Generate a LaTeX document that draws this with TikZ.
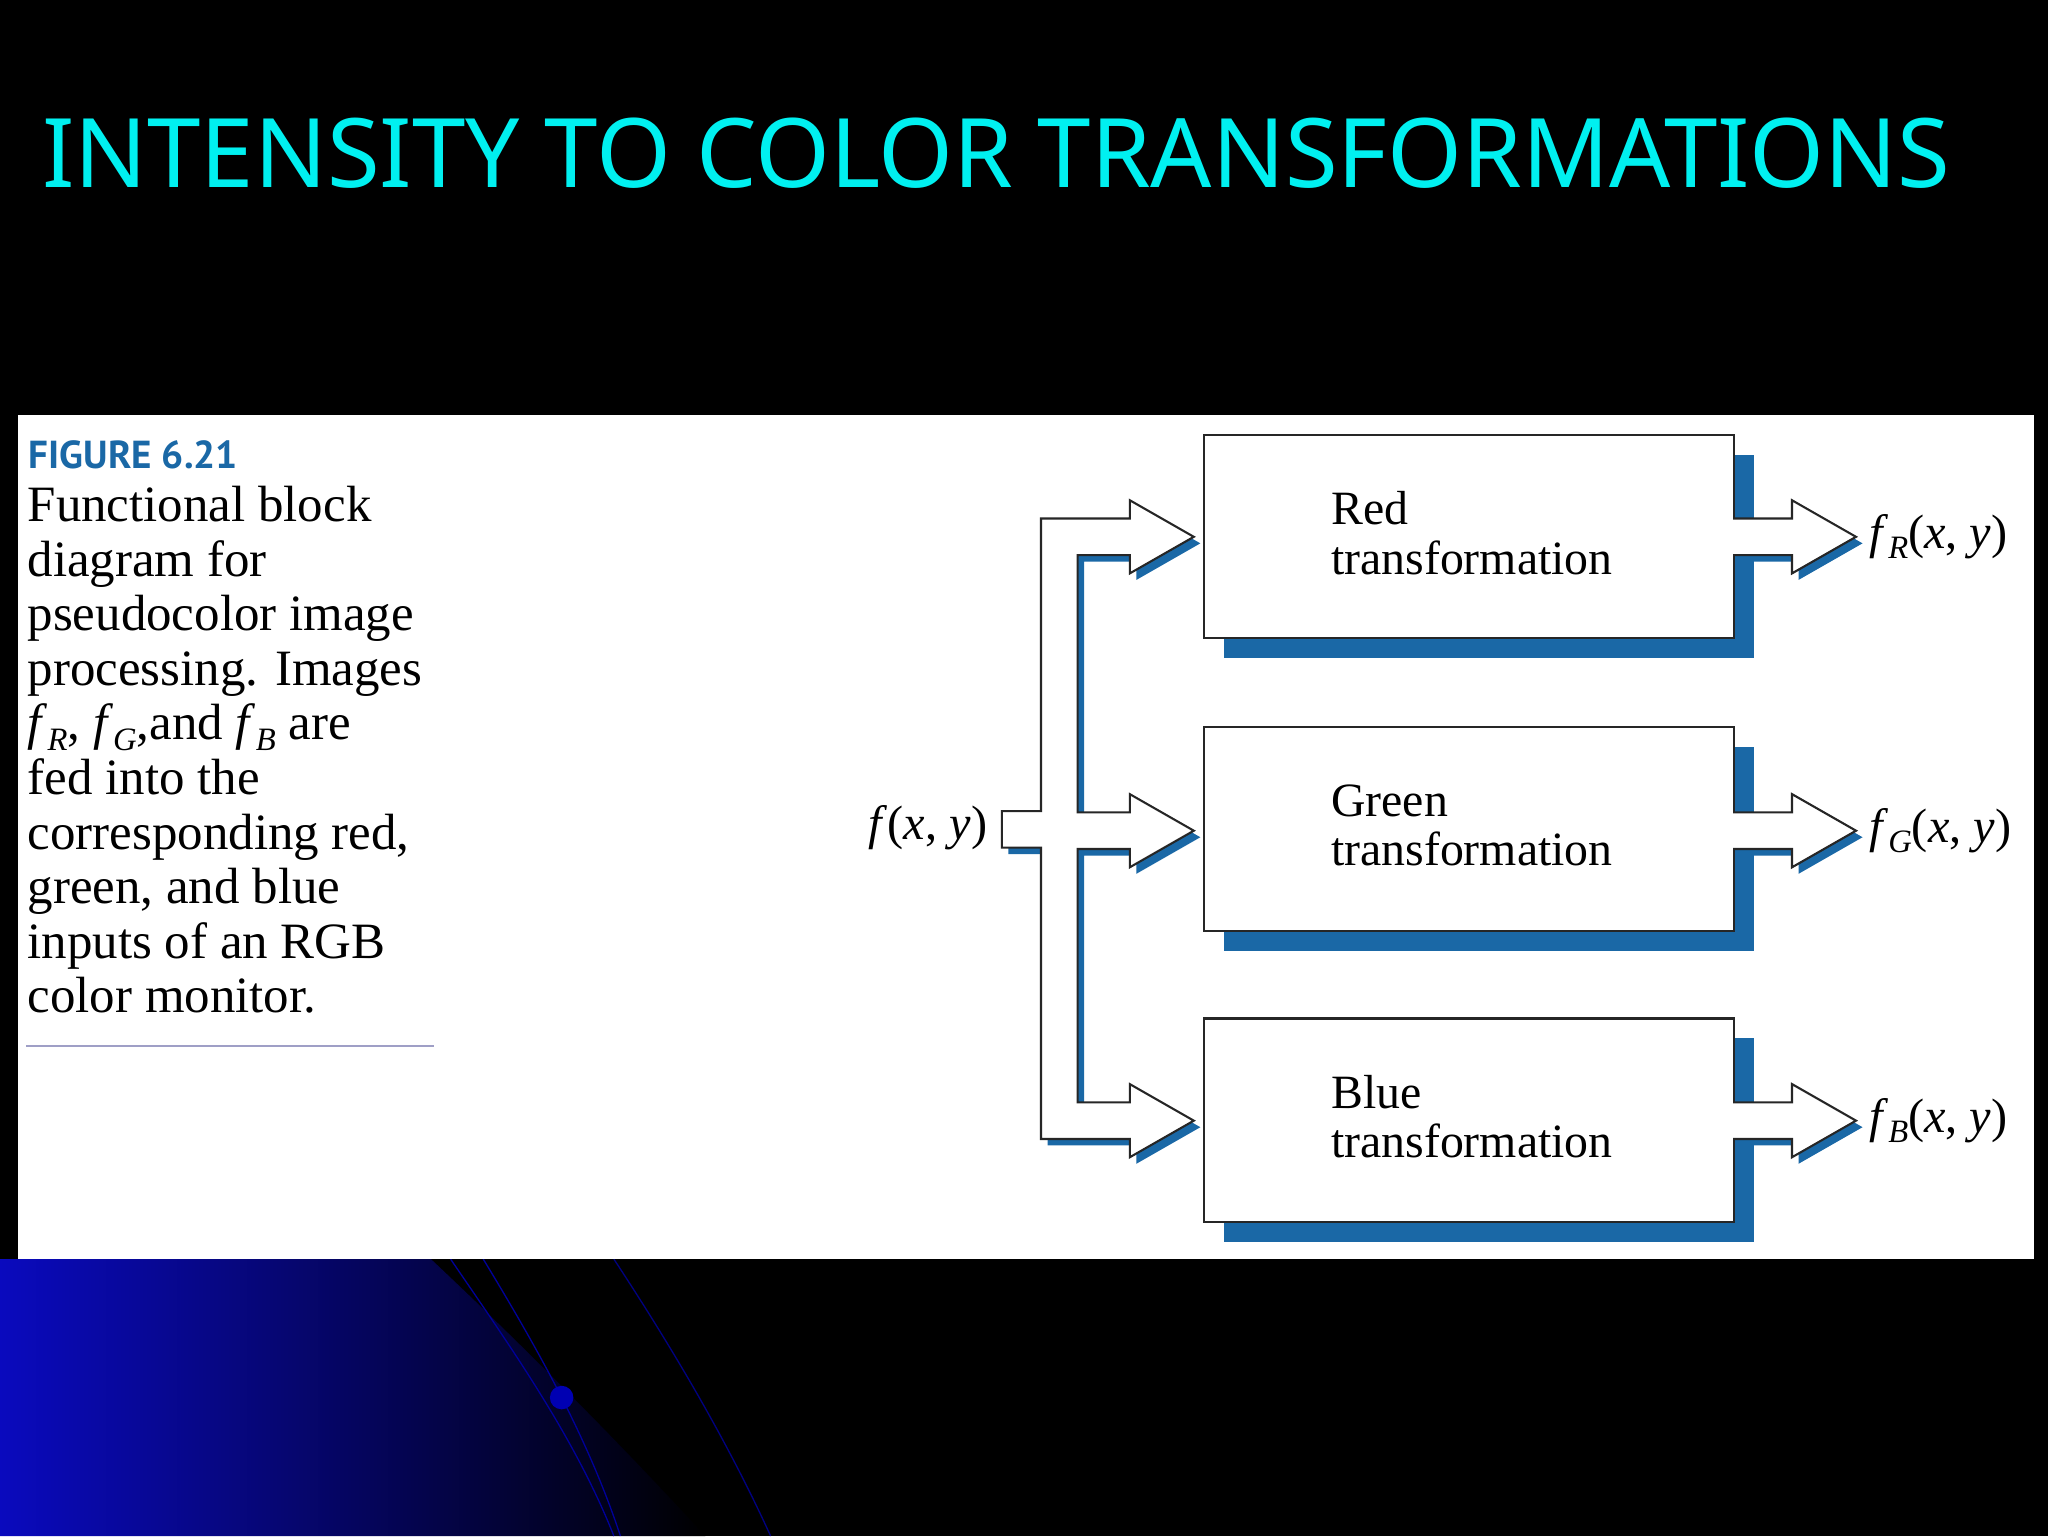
\documentclass[tikz,border=0pt]{standalone}
\usepackage{fontspec}
\setmainfont{Liberation Serif}
\newfontfamily\titlefont{Noto Sans}
\newfontfamily\figfont{PT Sans}
\usetikzlibrary{shadings}
\definecolor{shblue}{RGB}{26,104,166}
\definecolor{titlecyan}{RGB}{0,240,240}
\tikzset{
 tbox/.style={draw=black!85,line width=1.6pt,fill=white,minimum width=406pt,minimum height=156pt,anchor=north west},
 tlabel/.style={font=\fontsize{36.6}{38}\selectfont,align=left,anchor=west,inner sep=0pt},
 olabel/.style={font=\fontsize{37}{38}\selectfont,anchor=west,inner sep=0pt},
 aline/.style={draw=black!85,line width=1.6pt,fill=white,line join=miter},
}
\newcommand{\fsub}[1]{\textit{f}\raisebox{-0.2em}{\fontsize{25}{25}\selectfont\textit{#1}}}
\newcommand{\csub}[1]{\textit{f}\smash{\raisebox{-0.2em}{\fontsize{25}{25}\selectfont\textit{#1}}}}
\begin{document}
\begin{tikzpicture}[x=1pt,y=-1pt]
\useasboundingbox (0,0) rectangle (1568,1176);
\fill[black] (0,0) rectangle (1568,1176);
% background blue swirl
\shade[left color={rgb,255:red,10;green,10;blue,190},right color=black]
 (0,964) -- (330,964) .. controls (400,1030) and (470,1100) .. (540,1176) -- (0,1176) -- cycle;
\draw[blue!60!black,line width=1pt] (345,964) .. controls (390,1030) and (440,1100) .. (470,1176);
\draw[blue!60!black,line width=1pt] (370,964) .. controls (410,1030) and (450,1100) .. (475,1176);
\draw[blue!50!black,line width=1pt] (470,964) .. controls (520,1040) and (560,1110) .. (590,1176);
\fill[blue!70!black] (430,1070) circle (9);
% title
\node[anchor=west,inner sep=0pt,text=titlecyan] (title) at (32,117)
 {\resizebox{1461pt}{!}{\titlefont\fontsize{80}{90}\selectfont INTENSITY TO COLOR TRANSFORMATIONS}};
% panel
\fill[white] (14,318) rectangle (1557,964);
\node[anchor=west,inner sep=0pt,text=shblue] (fig) at (22,348)
 {\resizebox{160pt}{!}{\figfont\bfseries\fontsize{30}{30}\selectfont FIGURE 6.21}};
\node[anchor=north west,inner sep=0pt,align=left,font=\fontsize{39}{41.8}\selectfont] (cap) at (21,372)
 {Functional block\\diagram for\\pseudocolor image\\processing. Images\\\csub{R}, \csub{G},and \csub{B} are\\fed into the\\corresponding red,\\green, and blue\\inputs of an RGB\\color monitor.};
\draw[blue!25!gray!60,line width=1.5pt] (20,801) -- (332,801);
% boxes
\foreach \n/\y/\t in {r/332/Red,g/556/Green,b/779/Blue}{
 \fill[shblue] (937,\y+16) rectangle (1343,\y+172);
 \node[tbox] (\n) at (921,\y) {};
 \node[tlabel] (\n t) at (1019,\y+76) {\t\\transformation};
}
% input tree
\def\tree{(767,621) -- (797,621) -- (797,397) -- (865,397) -- (865,383) -- (914,411) -- (865,439) -- (865,425) -- (825,425) -- (825,622) -- (865,622) -- (865,608) -- (914,636) -- (865,664) -- (865,650) -- (825,650) -- (825,844) -- (865,844) -- (865,830) -- (914,858) -- (865,886) -- (865,872) -- (797,872) -- (797,649) -- (767,649) -- cycle}
\fill[shblue,shift={(5,5)}] \tree;
\path[aline] \tree;
\node[olabel,anchor=east] (fin) at (756,634) {\textit{f}(\textit{x}, \textit{y})};
% output arrows
\foreach \n/\c/\s in {r/411/R,g/636/G,b/858/B}{
 \fill[shblue,shift={(5,5)}] (1327,\c-14) -- (1372,\c-14) -- (1372,\c-28) -- (1421,\c) -- (1372,\c+28) -- (1372,\c+14) -- (1327,\c+14) -- cycle;
 \path[aline] (1327,\c-14) -- (1372,\c-14) -- (1372,\c-28) -- (1421,\c) -- (1372,\c+28) -- (1372,\c+14) -- (1327,\c+14);
 \node[olabel] (o\n) at (1431,\c) {\fsub{\s}(\textit{x}, \textit{y})};
}
\end{tikzpicture}
\end{document}
